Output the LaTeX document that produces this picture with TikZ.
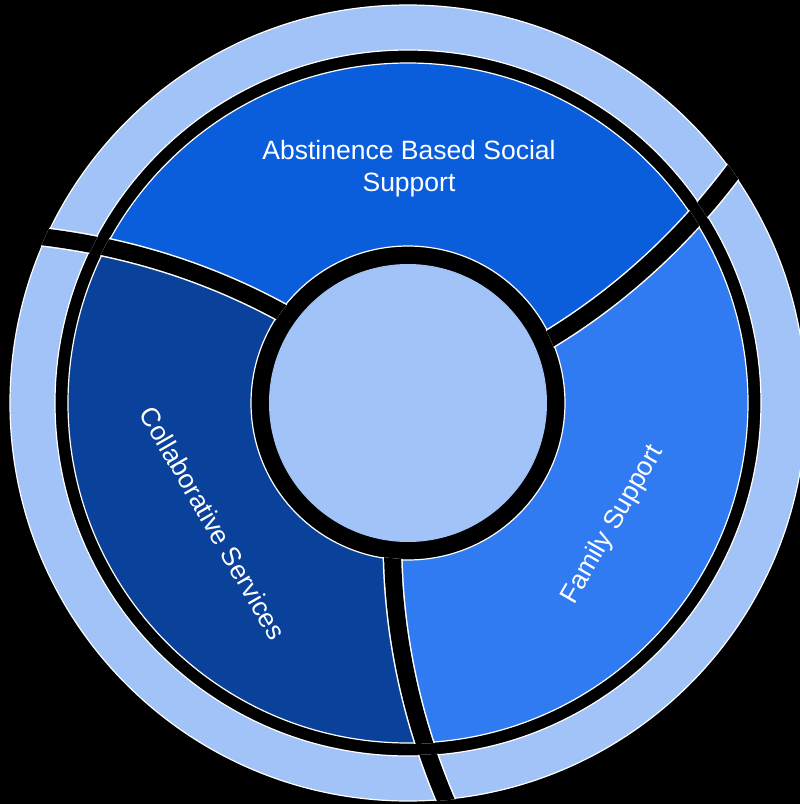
\documentclass[tikz,border=0pt]{standalone}
\usepackage{fontspec}
\setmainfont{Liberation Sans}
\definecolor{segA}{RGB}{11,94,219}
\definecolor{segB}{RGB}{10,66,155}
\definecolor{segC}{RGB}{48,123,241}
\definecolor{lite}{RGB}{162,195,247}
\begin{document}
\begin{tikzpicture}[x=1pt,y=1pt,
  outline/.style={white, line width=1.2},
  label/.style={text=white, font=\fontsize{26.5}{32}\selectfont, align=center, inner sep=0pt},
  sepwhite/.style={white, line width=20},
  sepblack/.style={black, line width=17}]
\useasboundingbox (-408,-401) rectangle (392,403);
\fill[black] (-408,-401) rectangle (392,403);
% outer ring
\fill[lite, even odd rule] (0,0) circle[radius=398] (0,0) circle[radius=353];
\draw[outline] (0,0) circle[radius=398] (0,0) circle[radius=353];
% segments
\foreach \a/\c in {24.4/segA,144.4/segB,264.4/segC} {
  \pgfmathsetmacro\b{\a+120}
  \fill[\c] plot[domain=157:340,samples=25,variable=\t] ({\a+0.0456*(\t-157)}:{\t})
     arc[start angle={\a+8.345}, end angle={\b+8.345}, radius=340]
     -- plot[domain=340:157,samples=25,variable=\t] ({\b+0.0456*(\t-157)}:{\t})
     arc[start angle=\b, end angle=\a, radius=157] -- cycle;
}
\draw[outline] (0,0) circle[radius=340];
% central hub
\fill[black] (0,0) circle[radius=157];
\draw[outline] (0,0) circle[radius=157];
\node[circle, fill=lite, minimum size=278, inner sep=0pt] (hub) at (0,0) {};
% separators in segment annulus
\begin{scope}
\clip (341,0) arc[start angle=0,end angle=360,radius=341] -- (156,0) arc[start angle=360,end angle=0,radius=156] -- cycle;
\foreach \a in {24.4,144.4,264.4} {
  \draw[sepwhite] plot[domain=150:345,samples=40,variable=\t] ({\a+0.0456*(\t-157)}:{\t});
  \draw[sepblack] plot[domain=150:345,samples=40,variable=\t] ({\a+0.0456*(\t-157)}:{\t});
}
\end{scope}
% separators in outer ring
\begin{scope}
\clip (399,0) arc[start angle=0,end angle=360,radius=399] -- (352,0) arc[start angle=360,end angle=0,radius=352] -- cycle;
\foreach \a in {24.4,144.4,264.4} {
  \draw[sepwhite] plot[domain=345:410,samples=20,variable=\t] ({\a+0.0456*(\t-157)}:{\t});
  \draw[sepblack] plot[domain=345:410,samples=20,variable=\t] ({\a+0.0456*(\t-157)}:{\t});
}
\end{scope}
% labels
\node[label] (top) at (1,234) {Abstinence Based Social\\Support};
\node[label, rotate=-60] (left) at (-195,-120) {Collaborative Services};
\node[label, rotate=60] (right) at (205,-122) {Family Support};
\end{tikzpicture}
\end{document}
